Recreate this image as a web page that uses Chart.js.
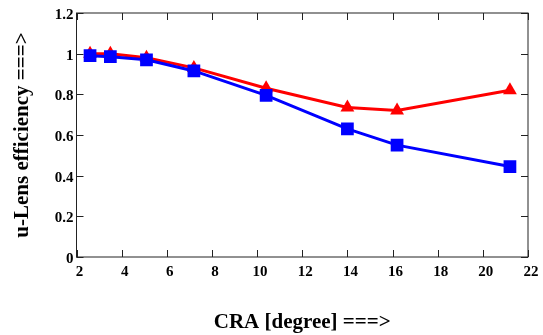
<!DOCTYPE html>
<html>
<head>
<meta charset="utf-8">
<script src="https://cdn.jsdelivr.net/npm/chart.js@4"></script>
<style>
  html, body { margin: 0; padding: 0; background: #fff; }
  #wrap { width: 543px; height: 335px; }
</style>
</head>
<body>
<div id="wrap"><canvas id="effChart" width="543" height="335"></canvas></div>
<script>
// Data
const craDegrees = [2.6, 3.5, 5.1, 7.2, 10.4, 14.0, 16.2, 21.2];
const blueEfficiency = [0.99, 0.985, 0.97, 0.915, 0.795, 0.63, 0.55, 0.445];
const redEfficiency = [1.0, 1.0, 0.98, 0.93, 0.83, 0.735, 0.72, 0.82];
const xTicks = [2, 4, 6, 8, 10, 12, 14, 16, 18, 20, 22];
const yTicks = [0, 0.2, 0.4, 0.6, 0.8, 1, 1.2];

const serif = 'Liberation Serif';

// Frame around the plot with inward tick marks on all four sides
const framePlugin = {
    id: 'frame',
    beforeDatasetsDraw(chart) {
        const ctx = chart.ctx;
        const a = chart.chartArea;
        const xs = chart.scales.x;
        const ys = chart.scales.y;
        const len = 7;
        ctx.save();
        ctx.strokeStyle = '#222';
        ctx.lineWidth = 1;
        ctx.strokeRect(a.left, a.top, a.right - a.left, a.bottom - a.top);
        ctx.beginPath();
        xTicks.forEach(v => {
            const px = Math.round(xs.getPixelForValue(v)) + 0.5;
            ctx.moveTo(px, a.bottom);
            ctx.lineTo(px, a.bottom - len);
            ctx.moveTo(px, a.top);
            ctx.lineTo(px, a.top + len);
        });
        yTicks.forEach(v => {
            const py = Math.round(ys.getPixelForValue(v)) + 0.5;
            ctx.moveTo(a.left, py);
            ctx.lineTo(a.left + len, py);
            ctx.moveTo(a.right, py);
            ctx.lineTo(a.right - len, py);
        });
        ctx.stroke();
        ctx.restore();
    }
};

const ctx = document.getElementById('effChart').getContext('2d');
new Chart(ctx, {
    type: 'line',
    data: {
        datasets: [
            {
                label: 'blue',
                data: craDegrees.map((x, i) => ({ x: x, y: blueEfficiency[i] })),
                borderColor: '#0000ff',
                backgroundColor: '#0000ff',
                borderWidth: 3,
                pointStyle: 'rect',
                pointRadius: 9,
                pointBorderWidth: 0,
                tension: 0
            },
            {
                label: 'red',
                data: craDegrees.map((x, i) => ({ x: x, y: redEfficiency[i] })),
                borderColor: '#ff0000',
                backgroundColor: '#ff0000',
                borderWidth: 3,
                pointStyle: 'triangle',
                pointRadius: 8,
                pointBorderWidth: 0,
                tension: 0
            }
        ]
    },
    options: {
        responsive: false,
        animation: false,
        layout: {
            padding: { left: 0, right: 15, top: 13, bottom: 0 }
        },
        plugins: {
            legend: { display: false },
            tooltip: { enabled: false }
        },
        scales: {
            x: {
                type: 'linear',
                min: 2,
                max: 22,
                afterFit: function(scale) { scale.height = 78; },
                afterBuildTicks: function(scale) {
                    scale.ticks = xTicks.map(v => ({ value: v }));
                },
                grid: { display: false, drawTicks: false },
                border: { display: false },
                ticks: {
                    padding: 6,
                    labelOffset: 3,
                    color: '#000',
                    maxRotation: 0,
                    font: { family: serif, size: 15, weight: 'bold' }
                },
                title: {
                    display: true,
                    text: 'CRA [degree] ===>',
                    color: '#000',
                    padding: { top: 0, bottom: 0 },
                    font: { family: serif, size: 21, weight: 'bold' }
                }
            },
            y: {
                min: 0,
                max: 1.2,
                afterFit: function(scale) { scale.width = 76.5; },
                afterBuildTicks: function(scale) {
                    scale.ticks = yTicks.map(v => ({ value: v }));
                },
                grid: { display: false, drawTicks: false },
                border: { display: false },
                ticks: {
                    padding: 3,
                    labelOffset: 2,
                    color: '#000',
                    callback: function(value) { return String(value); },
                    font: { family: serif, size: 15, weight: 'bold' }
                },
                title: {
                    display: true,
                    text: 'u-Lens efficiency ===>',
                    color: '#000',
                    padding: { top: 10, bottom: 0 },
                    font: { family: serif, size: 21, weight: 'bold' }
                }
            }
        }
    },
    plugins: [framePlugin]
});
</script>
</body>
</html>
